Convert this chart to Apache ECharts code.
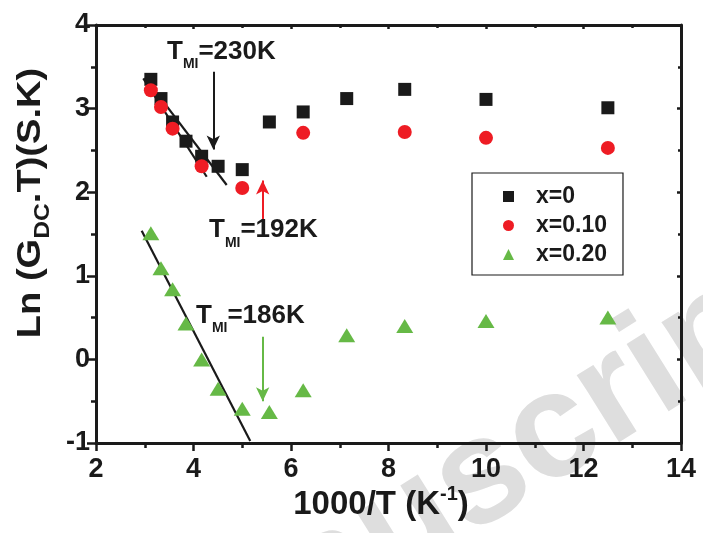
<!DOCTYPE html>
<html>
<head>
<meta charset="utf-8">
<script src="https://cdn.jsdelivr.net/npm/echarts@6/dist/echarts.min.js"></script>
<style>
html,body{margin:0;padding:0;background:#fff;}
#chart{width:703px;height:533px;}
</style>
</head>
<body>
<div id="chart"></div>
<script>
// ---- data ----
var invT = [3.125, 3.333, 3.571, 3.846, 4.167, 4.505, 5.0, 5.556, 6.25, 7.143, 8.333, 10.0, 12.5];
var lnX0 = [3.35, 3.12, 2.84, 2.61, 2.43, 2.31, 2.27, 2.84, 2.96, 3.12, 3.23, 3.11, 3.01];
var invT10 = [3.125, 3.333, 3.571, 4.167, 5.0, 6.25, 8.333, 10.0, 12.5];
var lnX10 = [3.22, 3.02, 2.76, 2.31, 2.05, 2.71, 2.72, 2.65, 2.53];
var lnX20 = [1.51, 1.09, 0.84, 0.43, 0.00, -0.35, -0.59, -0.63, -0.37, 0.29, 0.40, 0.46, 0.50];
var seriesNames = ['x=0', 'x=0.10', 'x=0.20'];
var xTicks = [2, 4, 6, 8, 10, 12, 14];
var yTicks = [-1, 0, 1, 2, 3, 4];
// fitted straight lines [x1,y1,x2,y2]
var fitX0 = [2.97, 3.362, 4.271, 2.185];
var fitX10 = [3.005, 3.37, 4.681, 2.086];
var fitX20 = [2.937, 1.539, 5.164, -0.975];
// arrows [x, yStart, yEnd]
var arrow230 = [4.406, 3.44, 2.51];
var arrow192 = [5.419, 1.647, 2.14];
var arrow186 = [5.419, 0.272, -0.50];

function pairs(xs, ys) { return xs.map(function (x, i) { return [x, ys[i]]; }); }
function seg(a) { return [[a[0], a[1]], [a[2], a[3]]]; }

var BLACK = '#1a1a1a', RED = '#ee1c24', GREEN = '#66b946';
var FONT = '"Liberation Sans", Arial, sans-serif';

var chart = echarts.init(document.getElementById('chart'));

function arrowSeries(a, color) {
  return {
    type: 'line', data: [], silent: true,
    markLine: {
      silent: true, animation: false,
      symbol: ['none', 'arrow'], symbolSize: [10, 14],
      label: { show: false },
      lineStyle: { color: color, width: 2, type: 'solid' },
      data: [[{ coord: [a[0], a[1]] }, { coord: [a[0], a[2]] }]]
    }
  };
}
function fitSeries(a) {
  return { type: 'line', data: seg(a), symbol: 'none', silent: true,
    lineStyle: { color: BLACK, width: 2.2 }, z: 3 };
}
function tmi(x, y, val) {
  return {
    type: 'text', left: x, top: y, z: 50,
    style: {
      text: '{a|T}{s|MI}{a|=' + val + '}',
      rich: {
        a: { fontFamily: FONT, fontWeight: 'bold', fontSize: 26, lineHeight: 40, fill: BLACK },
        s: { fontFamily: FONT, fontWeight: 'bold', fontSize: 14, lineHeight: 14, verticalAlign: 'bottom', fill: BLACK }
      }
    }
  };
}

var axisCommon = {
  axisLine: { show: true, onZero: false, lineStyle: { color: BLACK, width: 3 } },
  splitLine: { show: false }
};

var option = {
  animation: false,
  grid: { left: 96, right: 22, top: 25, bottom: 90, containLabel: false },
  xAxis: [
    Object.assign({}, axisCommon, {
      type: 'value', min: xTicks[0], max: xTicks[xTicks.length - 1], interval: 2, position: 'bottom',
      axisTick: { show: true, length: 8, lineStyle: { color: BLACK, width: 2.5 } },
      minorTick: { show: true, splitNumber: 2, length: 5, lineStyle: { color: BLACK, width: 2.5 } },
      axisLabel: { show: true, margin: 13, color: BLACK, fontFamily: FONT, fontWeight: 'bold', fontSize: 27 }
    }),
    Object.assign({}, axisCommon, {
      type: 'value', min: xTicks[0], max: xTicks[xTicks.length - 1], interval: 2, position: 'top',
      axisTick: { show: true, inside: true, length: 4, lineStyle: { color: BLACK, width: 2.5 } },
      minorTick: { show: true, splitNumber: 2, length: 3, lineStyle: { color: BLACK, width: 2.5 } },
      axisLabel: { show: false }
    })
  ],
  yAxis: [
    Object.assign({}, axisCommon, {
      type: 'value', min: yTicks[0], max: yTicks[yTicks.length - 1], interval: 1, position: 'left',
      axisTick: { show: true, length: 9, lineStyle: { color: BLACK, width: 2.5 } },
      minorTick: { show: true, splitNumber: 2, length: 5, lineStyle: { color: BLACK, width: 2.5 } },
      axisLabel: { show: true, margin: 6, color: BLACK, fontFamily: FONT, fontWeight: 'bold', fontSize: 27 }
    }),
    Object.assign({}, axisCommon, {
      type: 'value', min: yTicks[0], max: yTicks[yTicks.length - 1], interval: 1, position: 'right',
      axisTick: { show: true, inside: true, length: 4, lineStyle: { color: BLACK, width: 2.5 } },
      minorTick: { show: true, splitNumber: 2, length: 3, lineStyle: { color: BLACK, width: 2.5 } },
      axisLabel: { show: false }
    })
  ],
  legend: {
    data: seriesNames, orient: 'vertical', left: 472, top: 173,
    padding: [12, 16, 9, 31], itemWidth: 11, itemHeight: 11, itemGap: 6,
    borderColor: BLACK, borderWidth: 1.2, borderRadius: 0,
    textStyle: { color: BLACK, fontFamily: FONT, fontWeight: 'bold', fontSize: 23, lineHeight: 20, padding: [0, 0, 0, 17] }
  },
  graphic: [
    { type: 'text', x: 75, y: 645, rotation: 32 * Math.PI / 180, z: -10, silent: true,
      style: { text: 'Manuscript', fontFamily: FONT, fontWeight: 'bold', fontSize: 150, fill: '#dedede', textVerticalAlign: 'alphabetic' } },
    tmi(167, 38.5, '230K'),
    tmi(209, 216.7, '192K'),
    tmi(196, 302.5, '186K'),
    { type: 'text', x: 31, y: 203, rotation: Math.PI / 2, scaleX: 1.12, z: 50,
      style: {
        text: '{a|Ln (G}{s|DC}{a|.T)(S.K)}', align: 'center', verticalAlign: 'middle',
        rich: {
          a: { fontFamily: FONT, fontWeight: 'bold', fontSize: 34, lineHeight: 46, fill: BLACK },
          s: { fontFamily: FONT, fontWeight: 'bold', fontSize: 22, lineHeight: 22, verticalAlign: 'bottom', fill: BLACK }
        }
      } },
    { type: 'text', x: 381, y: 505, z: 50,
      style: {
        text: '{a|1000/T (K}{s|-1}{a|)}', align: 'center', verticalAlign: 'middle',
        rich: {
          a: { fontFamily: FONT, fontWeight: 'bold', fontSize: 33, lineHeight: 42, fill: BLACK },
          s: { fontFamily: FONT, fontWeight: 'bold', fontSize: 20, lineHeight: 20, verticalAlign: 'top', fill: BLACK }
        }
      } }
  ],
  series: [
    { name: seriesNames[0], type: 'scatter', data: pairs(invT, lnX0), symbol: 'rect', symbolSize: 13,
      itemStyle: { color: BLACK, opacity: 1 }, z: 4 },
    { name: seriesNames[1], type: 'scatter', data: pairs(invT10, lnX10), symbol: 'circle', symbolSize: 14,
      itemStyle: { color: RED, opacity: 1 }, z: 5 },
    { name: seriesNames[2], type: 'scatter', data: pairs(invT, lnX20), symbol: 'triangle', symbolSize: [17, 14],
      itemStyle: { color: GREEN, opacity: 1 }, z: 5 },
    fitSeries(fitX0), fitSeries(fitX10), fitSeries(fitX20),
    arrowSeries(arrow230, BLACK), arrowSeries(arrow192, RED), arrowSeries(arrow186, GREEN)
  ]
};
chart.setOption(option);
</script>
</body>
</html>
